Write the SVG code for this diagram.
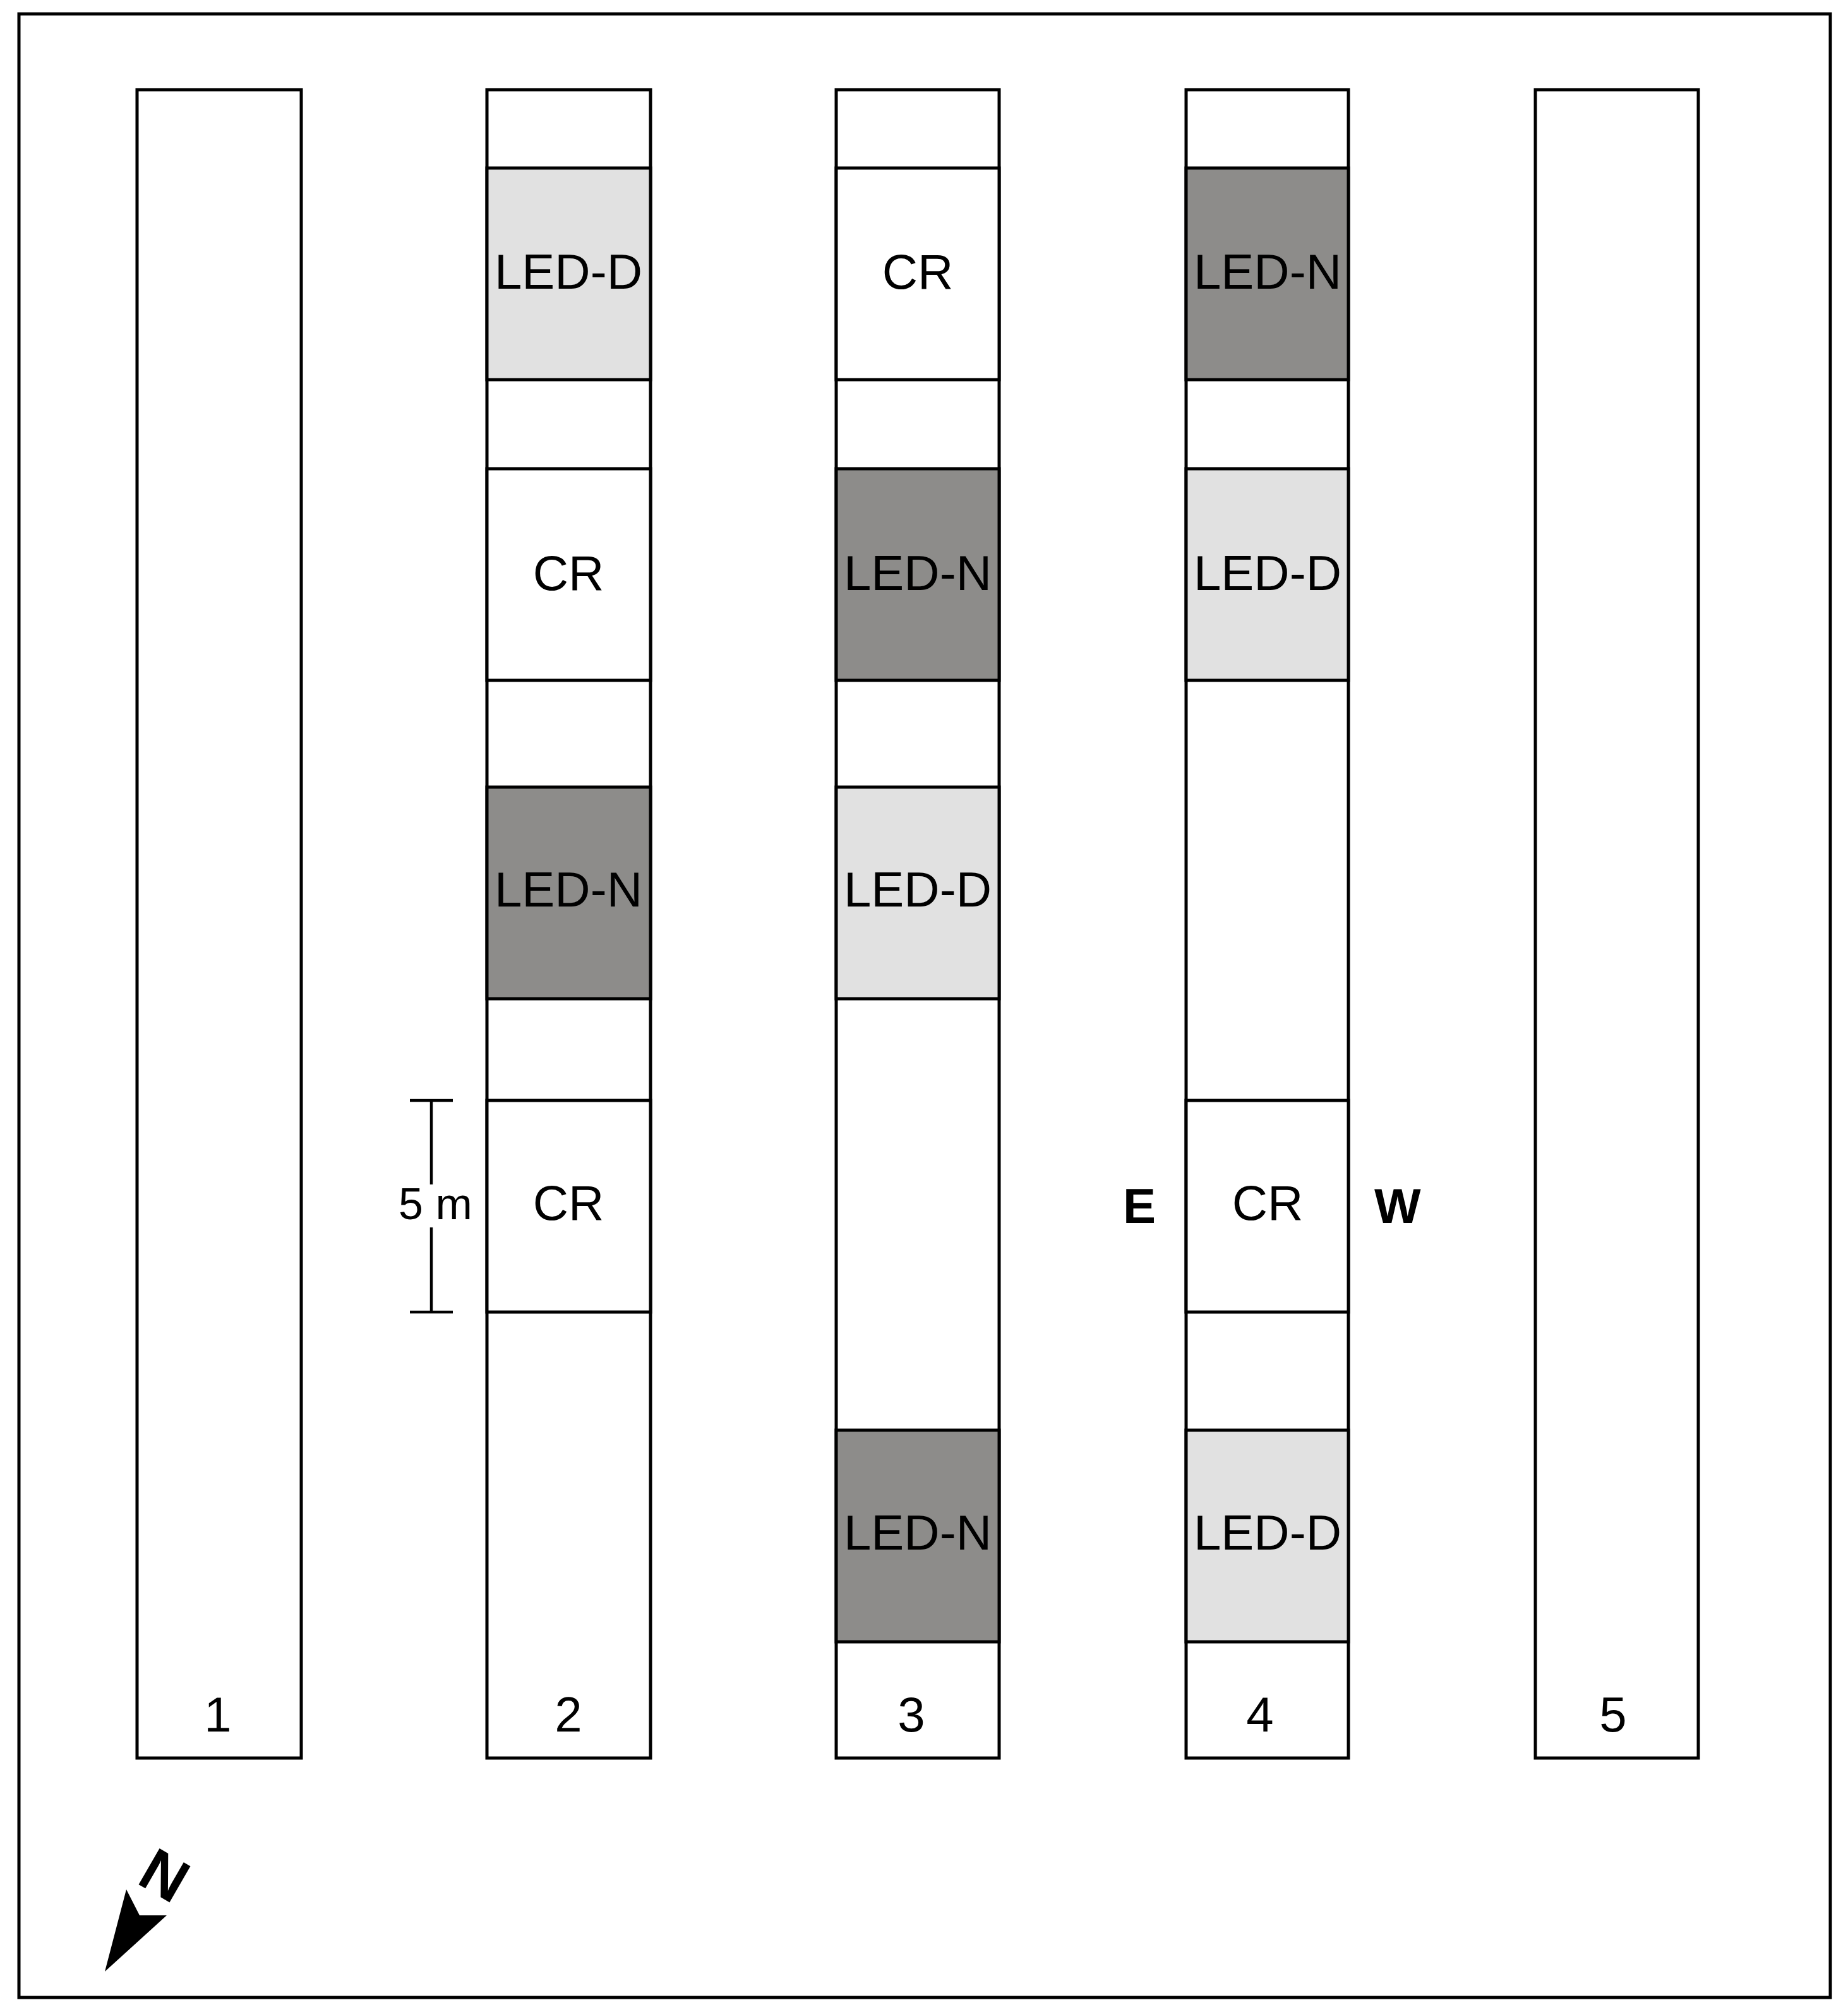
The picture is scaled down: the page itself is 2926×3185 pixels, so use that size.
<svg xmlns="http://www.w3.org/2000/svg" width="2926" height="3185" viewBox="0 0 2926 3185">
<style>
rect{stroke:#000;stroke-width:5;fill:#fff}
rect.d{fill:#e1e1e1}
rect.n{fill:#8d8c8a}
text{font-family:"Liberation Sans",Arial,sans-serif;font-size:78px;fill:#000}
text.c{text-anchor:middle}
text.b{font-weight:bold}
line{stroke:#000;stroke-width:4.5}
</style>
<rect width="2926" height="3185" style="fill:#fff;stroke:none"/>
<g id="frame"><rect x="30" y="22" width="2868" height="3140"/></g>
<g id="strip1"><rect x="217" y="142" width="260" height="2641"/><text class="c" x="345" y="2741">1</text></g>
<g id="strip2">
<rect x="771" y="142" width="259" height="2641"/>
<g id="s2-a"><rect class="d" x="771" y="266" width="259" height="335"/><text class="c" x="900" y="457">LED-D</text></g>
<g id="s2-b"><rect x="771" y="742" width="259" height="335"/><text class="c" x="900" y="934">CR</text></g>
<g id="s2-c"><rect class="n" x="771" y="1246" width="259" height="335"/><text class="c" x="900" y="1435">LED-N</text></g>
<g id="s2-d"><rect x="771" y="1742" width="259" height="335"/><text class="c" x="900" y="1931">CR</text></g>
<text class="c" x="900" y="2741">2</text>
</g>
<g id="strip3">
<rect x="1324" y="142" width="258" height="2641"/>
<g id="s3-a"><rect x="1324" y="266" width="258" height="335"/><text class="c" x="1453" y="457">CR</text></g>
<g id="s3-b"><rect class="n" x="1324" y="742" width="258" height="335"/><text class="c" x="1453" y="934">LED-N</text></g>
<g id="s3-c"><rect class="d" x="1324" y="1246" width="258" height="335"/><text class="c" x="1453" y="1435">LED-D</text></g>
<g id="s3-d"><rect class="n" x="1324" y="2264" width="258" height="335"/><text class="c" x="1453" y="2453">LED-N</text></g>
<text class="c" x="1443" y="2741">3</text>
</g>
<g id="strip4">
<rect x="1878" y="142" width="257" height="2641"/>
<g id="s4-a"><rect class="n" x="1878" y="266" width="257" height="335"/><text class="c" x="2007" y="457">LED-N</text></g>
<g id="s4-b"><rect class="d" x="1878" y="742" width="257" height="335"/><text class="c" x="2007" y="934">LED-D</text></g>
<g id="s4-c"><rect x="1878" y="1742" width="257" height="335"/><text class="c" x="2007" y="1931">CR</text></g>
<g id="s4-d"><rect class="d" x="1878" y="2264" width="257" height="335"/><text class="c" x="2007" y="2453">LED-D</text></g>
<text class="c" x="1995" y="2741">4</text>
</g>
<g id="strip5"><rect x="2431" y="142" width="258" height="2641"/><text class="c" x="2554" y="2741">5</text></g>
<g id="connectors">
<line x1="649" y1="1742" x2="717" y2="1742"/>
<line x1="649" y1="2077" x2="717" y2="2077"/>
<line x1="683" y1="1742" x2="683" y2="1875"/>
<line x1="683" y1="1943" x2="683" y2="2077"/>
</g>
<g id="scale-label"><text x="631" y="1930" style="font-size:70px">5 m</text></g>
<g id="label-e"><text class="b" x="1778" y="1936">E</text></g>
<g id="label-w"><text class="b" x="2176" y="1936">W</text></g>
<g id="north">
<polygon points="200,2991 221,3032 264,3032 166,3121" fill="#000"/>
<text class="b" transform="translate(214,2980) rotate(30)" style="font-size:96px">N</text>
</g>
</svg>
